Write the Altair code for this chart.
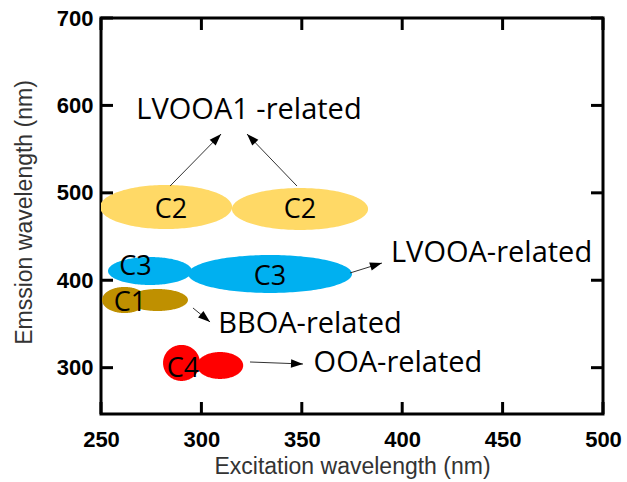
import math
import numpy as np
import pandas as pd
import altair as alt

# ---- plot geometry -------------------------------------------------------
W, H = 502, 396
X_DOM = [250, 500]
Y_DOM = [247, 700]

# ---- axis ticks ----------------------------------------------------------
x_ticks = [250, 300, 350, 400, 450, 500]
y_ticks = [300, 400, 500, 600, 700]

# ---- EEM component regions (ellipses) -----------------------------------
ell_id = ["C2a", "C2b", "C3a", "C3b", "C1a", "C1b", "C4a", "C4b"]
ell_cx = [282.4, 349.1, 274.4, 334.2, 261.7, 278.1, 290.1, 309.3]
ell_cy = [483.8, 481.5, 410.6, 407.2, 377.4, 377.4, 305.4, 302.5]
ell_rx = [32.9, 33.9, 20.9, 40.8, 11.2, 15.2, 9.2, 11.5]
ell_ry = [25.2, 24.0, 16.0, 21.7, 14.9, 12.6, 20.6, 15.4]
ell_col = ["#FFD966", "#FFD966", "#00B0F0", "#00B0F0",
           "#BF9000", "#BF9000", "#FF0000", "#FF0000"]

# ---- component labels -----------------------------------------------------
comp_text = ["C2", "C2", "C3", "C3", "C1", "C4"]
comp_x = [284.9, 349.1, 267.2, 334.2, 264.4, 290.8]
comp_y = [471.2, 471.2, 405.5, 394.6, 365.0, 289.3]

# ---- source annotations ---------------------------------------------------
note_text = ["LVOOA1 -related", "LVOOA-related", "BBOA-related", "OOA-related"]
note_x = [323.7, 444.5, 354.1, 397.9]
note_y = [584.5, 420.9, 339.7, 295.0]

# ---- arrows (start -> tip) ------------------------------------------------
arr_x1 = [284.4, 347.6, 374.0, 295.8, 324.2]
arr_y1 = [507.8, 507.8, 408.3, 368.3, 306.5]
arr_x2 = [309.8, 322.7, 389.9, 304.3, 350.6]
arr_y2 = [567.3, 567.3, 419.7, 352.3, 304.2]

# ---- build tables ----------------------------------------------------------
rows = []
t = np.linspace(0, np.pi, 91)
for gid, cx, cy, rx, ry, col in zip(ell_id, ell_cx, ell_cy, ell_rx, ell_ry, ell_col):
    for tt in t:
        rows.append({"id": gid, "x": cx + rx * math.cos(tt),
                     "ylo": cy - ry * math.sin(tt), "yhi": cy + ry * math.sin(tt),
                     "col": col})
ell_df = pd.DataFrame(rows)

sx = W / (X_DOM[1] - X_DOM[0])
sy = H / (Y_DOM[1] - Y_DOM[0])
angles = []
for x1, y1, x2, y2 in zip(arr_x1, arr_y1, arr_x2, arr_y2):
    dx = (x2 - x1) * sx
    dy = -(y2 - y1) * sy
    angles.append(math.degrees(math.atan2(dx, -dy)) % 360)
arr_df = pd.DataFrame({"x": arr_x1, "y": arr_y1, "x2": arr_x2, "y2": arr_y2,
                       "angle": angles})
comp_df = pd.DataFrame({"x": comp_x, "y": comp_y, "text": comp_text})
note_df = pd.DataFrame({"x": note_x, "y": note_y, "text": note_text})
xt_df = pd.DataFrame({"x": x_ticks})
yt_df = pd.DataFrame({"y": y_ticks})

LABEL_FONT = "Liberation Sans"
ANNOT_FONT = "Open Sans"

xaxis = alt.Axis(values=x_ticks, format="d", ticks=False, tickSize=0, domain=False,
                 grid=False, labelFlush=False, labelFont=LABEL_FONT, labelFontSize=22,
                 labelFontWeight="bold", labelColor="black", labelPadding=15,
                 title="Excitation wavelength (nm)", titleFont=LABEL_FONT,
                 titleFontSize=23, titleFontWeight="normal", titleColor="#333333",
                 titleBaseline="alphabetic", titleY=59)
yaxis = alt.Axis(values=y_ticks, format="d", ticks=False, tickSize=0, domain=False,
                 grid=False, labelFlush=False, labelFont=LABEL_FONT, labelFontSize=22,
                 labelFontWeight="bold", labelColor="black", labelPadding=8,
                 title="Emssion wavelength (nm)", titleFont=LABEL_FONT,
                 titleFontSize=23, titleFontWeight="normal", titleColor="#333333",
                 titleBaseline="alphabetic", titleX=-70, titleY=194)
xs = alt.Scale(domain=X_DOM, nice=False, zero=False)
ys = alt.Scale(domain=Y_DOM, nice=False, zero=False)


def X(field="x"):
    return alt.X(f"{field}:Q", scale=xs, axis=xaxis)


def Y(field="y"):
    return alt.Y(f"{field}:Q", scale=ys, axis=yaxis)


ellipses = alt.Chart(ell_df).mark_area(clip=True).encode(
    x=X(), y=Y("ylo"), y2="yhi:Q", detail="id:N",
    fill=alt.Fill("col:N", scale=None),
)

arrow_lines = alt.Chart(arr_df).mark_rule(color="#333333", strokeWidth=1).encode(
    x=X(), y=Y(), x2="x2:Q", y2="y2:Q"
)
arrow_heads = alt.Chart(arr_df).mark_point(
    shape="M0,0L0.7,2L-0.7,2Z", filled=True, color="black", opacity=1, size=144
).encode(x=X("x2"), y=Y("y2"), angle=alt.Angle("angle:Q", scale=None))

comp_labels = alt.Chart(comp_df).mark_text(
    font=ANNOT_FONT, fontSize=27, color="black", align="center", baseline="alphabetic"
).encode(x=X(), y=Y(), text="text:N")

notes = alt.Chart(note_df).mark_text(
    font=ANNOT_FONT, fontSize=29, color="black", align="center", baseline="alphabetic"
).encode(x=X(), y=Y(), text="text:N")

TL = 12
tick_style = dict(color="black", strokeWidth=3)
bottom_ticks = alt.Chart(xt_df).mark_rule(**tick_style).encode(
    x=X(), y=alt.value(H), y2=alt.value(H - TL))
top_ticks = alt.Chart(xt_df).mark_rule(**tick_style).encode(
    x=X(), y=alt.value(0), y2=alt.value(TL))
left_ticks = alt.Chart(yt_df).mark_rule(**tick_style).encode(
    y=Y(), x=alt.value(0), x2=alt.value(TL))
right_ticks = alt.Chart(yt_df).mark_rule(**tick_style).encode(
    y=Y(), x=alt.value(W - TL), x2=alt.value(W))

chart = alt.layer(
    ellipses, arrow_lines, arrow_heads, comp_labels, notes,
    bottom_ticks, top_ticks, left_ticks, right_ticks,
).properties(
    width=W, height=H,
    autosize=alt.AutoSizeParams(type="none"),
    padding={"left": 101, "top": 18, "right": 24, "bottom": 68},
    background="white",
).configure_view(stroke="black", strokeWidth=3)

chart.save("out.html", embed_options={"renderer": "svg", "actions": False})
